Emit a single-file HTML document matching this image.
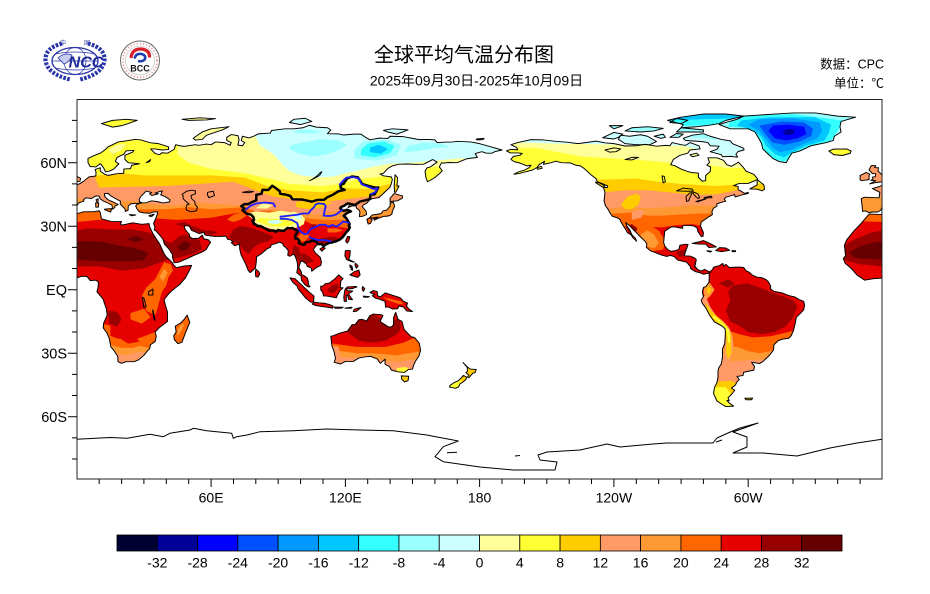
<!DOCTYPE html>
<html><head><meta charset="utf-8"><style>
html,body{margin:0;padding:0;background:#fff;}
svg{display:block;}
text{font-family:"Liberation Sans","Noto Sans CJK SC",sans-serif;}
</style></head><body>
<svg width="930" height="594" viewBox="0 0 930 594" xmlns="http://www.w3.org/2000/svg">
<defs>
<clipPath id="mc"><rect x="77" y="99.5" width="805" height="379.5"/></clipPath>
<polygon id="eur" points="-9,38.7 -9.5,43 -8,43.7 -1.5,43.4 -1.2,46 -4.5,47.8 -1.5,48.7 1.5,50.2 3,51.2 4.5,52.5 5.5,53.3 8.5,53.7 8.6,55.5 8.2,56.8 10.5,57.6 10.5,56 12.5,54.5 14,54 18,54.8 21,55 21,57 24,57.2 24.5,58.8 28,59.5 23,60 21.5,61.5 21.5,63.5 25,65 25.5,65.8 22,65.6 21,64 18,62.5 17.2,60.6 18.8,59.5 16.5,57 14.5,56 12.8,55.7 12,57.5 11,59 10.5,59.5 8.5,58 6,58.2 5,60 5,62 8,63.5 10.5,64.5 12.5,66 14,67.5 16,68.5 18.5,69.8 22,70.3 26,71 28.5,70.8 31,70 33,69.4 36.5,69 41,67.5 41,66.2 38,66 35,66.5 33,66.5 35,64.3 37,63.8 38,64.7 40.5,64.5 43.5,66.3 44.2,68.5 46,68 48,67.7 53,68.5 54.5,68.2 58,68.8 60,68.5 62,69.8 66,69.5 68.5,68.2 69,69.5 67,70.5 67,72 69,73.3 72,72.8 72.5,71 72,68.3 74,68 75,69.5 73.5,70.5 74,72.5 77,71.7 79,72.5 81,73.6 86.5,74 87,75.2 93,76 97,76 101,76.5 104,77.7 107,76.8 112,76.5 113.5,75.5 112,73.7 117,73.6 119,73.1 124,73.5 127,73.5 129,72 131,70.8 135,71.6 139,71.5 140,72.5 146,72.3 150,71.5 153,70.9 157,71 160,70.8 161,69.5 164,69.7 168,69.8 170,70.1 176,69.8 180,69 185,67.5 190,66 187,65.3 185.5,64.5 183,64.5 181,65.2 178,64.3 179,62.5 174,61.8 170,60 166,60.1 164,59.8 163,60 162,58 163.3,56.2 162,54.8 160,53 158.5,52 156.7,51 156,53 155.6,56 156.5,57.6 158,58 161,60.3 159,61.5 155,59.3 151,59.2 148,59.4 144,59.3 141,58.5 139,57.3 137,55 135.5,54.6 137,53.8 140.5,53.3 141,52 140.5,50 140,48.5 138,46.5 135,43.5 132,43 130.7,42.3 129.7,41 128,40 127.5,39.3 129.3,37 129.5,35.5 127.5,34.6 126.3,34.5 126.5,36.8 126,37.8 125,38.5 124.7,39.6 123,39.6 121.2,38.8 121.6,39.6 122.2,40.4 121,40.8 119.5,39.7 118,39 117.6,38.5 118.5,37.5 119,37.2 120.7,37.8 122.5,37 120.5,36.1 119.2,35 120.3,34.3 121,32.5 121.9,31.2 121.8,30 121.5,29.5 121.9,29 120.5,27.3 119.5,25.5 118,24.5 116.5,23 114,22.3 112,21.7 110.5,21.2 110.2,20.3 109.7,21.5 108,21.6 106.7,20.5 105.7,19 106.5,17.5 108.8,15.3 109.3,13 109,11.5 107,10.4 105,8.7 104.8,10.2 103,11 102.5,12.2 100.8,13.5 100,13.3 99.2,10.5 100.3,8.5 100.5,7 101.3,6.8 103,5.5 103.4,4 103.5,2.5 104.2,1.4 103.5,1.3 102,2.3 100.4,4.5 100.2,6.5 98.3,8 98.7,10.5 98.5,13 97.7,15.5 97,16.8 95.2,15.8 94.3,16.2 94.5,18.5 93.5,19.8 92.4,20.7 92,21.8 90.5,22.5 89,21.8 86.9,21.2 86.5,20 85,19.3 82.5,17 80.3,15.5 80.2,13.2 79.8,10.3 78,8.5 77.4,8.1 76.5,9.3 75.7,11.5 74.6,14 73.4,16.5 72.8,19.2 72.7,21.5 70.5,20.8 69,22.3 70,22.6 68.8,23.5 67.4,23.8 66.7,25.3 64.5,25.2 61.5,25.2 58.5,25.6 57.3,25.8 56.8,27.1 54.7,26.5 52.5,27.5 51.3,28 50.2,30 48.8,30.3 48,29.9 48.4,28.5 49.5,27 50.2,26.3 50.5,25 51.6,24.2 52.5,24.2 54.5,24.3 56,25.8 56.4,24.9 56.8,24 58.7,23.6 59.8,22.4 58.9,21 57.8,19 56.7,18.2 55.3,17.5 52.3,16.2 49,14.6 45.5,13 43.5,12.7 42.7,15.5 42.8,16.5 41.2,19.2 39.2,21.5 38.5,23.8 37.5,25.2 35.2,28 34.6,28.2 34.9,29.5 34.3,31.3 34.8,32.5 35.5,34.2 36,35.8 36.2,36.7 34.5,36.8 32.5,36.1 30,36.3 28,36.7 26.8,38.3 26.3,39.6 27,40.4 29,41 31,41.1 33.5,42 36,41.6 38.5,41 41.5,41.5 41.6,42.5 39.5,44 37.5,44.8 38.2,46.7 35,45.7 36.5,45.3 33.5,44.5 32.5,45.3 33.5,45.9 31,46.6 30,45.5 29.5,45 28.6,44 27.9,42.7 28,41.6 29,41.1 26.5,40.7 26.2,40.8 24.2,40.6 23.5,40 23,39.5 22.9,37.5 21.7,37 21.5,38.2 20.2,39.6 19.4,40.5 19.5,41.8 17,43.2 15,44.5 14,45.5 12.3,45.4 12.5,44 14,42.5 16,41.5 18.5,40.2 17,39.5 17,38.9 16,38 15.7,40 14,40.9 12,41.8 10.5,42.9 10,44.2 8.5,44.3 6.5,43.1 4,43.4 3,42.5 3.2,41.9 0.8,41 0,39.5 -0.3,38.8 -0.7,37.6 -2.1,36.7 -4.5,36.7 -6,36.4 -7.5,37.2 -8.9,37"/>
<polygon id="afr" points="-5.9,35.8 -9.8,31 -13,27.5 -16,23.5 -17,21 -16.5,16 -17.5,14.7 -16.7,12.5 -15,11 -13.5,9.5 -11.5,7 -8,4.5 -4,5.2 0,5.5 2,6.3 4.5,6.3 6,4.3 8.5,4.5 9.7,3.5 9.5,1 9,-1 11.8,-4.5 12.2,-6 13.2,-9 13.6,-12 12,-15.8 11.8,-18 13.5,-20.5 14.5,-23 15.2,-27 16.5,-28.6 18.3,-31.5 18.4,-34 20,-34.8 22,-34 25.6,-34 27.5,-33.2 30,-31 31.5,-29 32.5,-28 32.9,-26 35,-24.5 35.5,-22 35,-20 36.8,-18 40.5,-15 40.5,-10.5 39.5,-7 39,-4.7 41,-2 43,0 46,2.5 48.5,5.5 50.5,9.5 51.3,11.5 48,11.2 44.5,10.4 43.3,11.6 42.5,13 40,15.5 39,17 37.3,21 36.8,22 35.5,24 34,26.5 32.5,29.8 32.3,31.2 29,30.9 25,31.6 20,30.5 19.5,31 20,32.2 15.5,32.2 11,33.5 10.5,36.5 10,37.3 8,36.9 3,36.8 -1,35.5"/>
<polygon id="gb" points="-5.7,50 -3,50.6 1.4,51.2 1.7,52.6 0.3,53.4 -0.5,54.5 -1.5,55.6 -2,56 -1.8,57.6 -3.5,57.7 -3,58.6 -5,58.6 -5.6,57.5 -6,56.5 -5,55.5 -4.5,54.8 -3,54.8 -3.2,53.4 -4.5,53.2 -4.2,52.3 -5.2,51.7 -3,51.5"/>
<polygon id="ie" points="-6,52 -6,54 -5.6,54.6 -7.3,55.4 -8.3,54.8 -10,54 -10,52 -9.5,51.5"/>
<polygon id="sic" points="12.5,38.1 15.6,38.3 15.1,36.7 12.4,37.8"/>
<polygon id="sar" points="8.4,41 9.8,41 9.6,39 8.5,39"/>
<polygon id="cor" points="8.6,42.5 9.5,43 9.5,41.5 9,41.4"/>
<polygon id="cre" points="23.5,35.5 26.3,35.3 24.5,34.9"/>
<polygon id="cyp" points="32.3,35 34.6,35.7 33.5,34.6 32.4,34.7"/>
<polygon id="sval" points="11,78.5 16,80 22,80.5 27,80 23,78.5 20,77.5 16,76.8 14,77.5"/>
<polygon id="nzem" points="52,71.5 54,73 56,74.5 60,76 68,77 65,75.5 58,73 56,71 53,70.7"/>
<polygon id="fj" points="47,80.5 55,81.2 62,80.8 58,80.2 50,80"/>
<polygon id="sev" points="95,79 97,80.5 102,81 105,79.5 100,78"/>
<polygon id="nsi" points="137,75.3 141,76 148,75.5 143,73.5 139,74.5"/>
<polygon id="wra" points="178.5,71.2 182,71.5 181.5,70.9 178.8,70.8"/>
<polygon id="hon" points="130.9,34 132,35.3 134,35.6 136,36 136.8,37.2 138.5,37.6 140,39.5 140,40.9 141.4,41.4 142,39.5 141,37 140.8,35.7 139.8,35 138.5,34.7 137,34.6 135.5,34 133,33.7"/>
<polygon id="kyu" points="129.6,33.3 131,34 132,33 131.2,31.3 130.2,31"/>
<polygon id="shi" points="132.5,33.9 134.2,34.3 134.7,33.8 133,32.8"/>
<polygon id="hok" points="140,41.5 140,43.2 141.8,45.4 145.5,44.3 145.5,43.3 143.3,42 141,41.8"/>
<polygon id="sak" points="142,46 141.8,49 142.2,54.3 143.3,53 143.1,49 144,49 142.5,46"/>
<polygon id="tai" points="120.1,23 121,25.2 122,25 121.5,23 120.8,22"/>
<polygon id="hai" points="108.6,19.2 110,20.1 111,19.6 109.5,18.2"/>
<polygon id="sri" points="79.8,8 80,9.8 81.3,8.5 81.8,7.5 81,6 80,6.1"/>
<polygon id="luz" points="120,18.5 122.2,18.5 122,16 121.5,14.3 124,13 123,13.2 120.6,14.2 119.8,16"/>
<polygon id="mnd" points="122,7 124,8.5 126,9.3 126.6,7 125.5,5.8 124,6.3"/>
<polygon id="vs1" points="124.5,12.5 125.7,11.3 125,10.1 124.3,11.5"/>
<polygon id="vs2" points="122,11.7 123,11 122.2,10.4"/>
<polygon id="vs3" points="123,10.9 123.3,9.2 122.5,9.5"/>
<polygon id="bor" points="109,1.7 110,1.7 111,2.8 113,3.2 115.5,5.3 117,7 119,5.2 118,4.3 117.7,1 119,0.9 117.5,-0.5 116.5,-2.5 116,-3.8 114.5,-3.5 113,-3.2 111.7,-3 110.2,-2.9 110,-1.5 109,0"/>
<polygon id="sum" points="95.3,5.6 97.5,5.2 100.5,2.2 103.7,-1 106,-3 105.8,-5.8 104.5,-5.9 102.3,-4 100.8,-2 99,0.2 98.5,1.7 96.5,3.5"/>
<polygon id="jav" points="105.2,-6.8 106,-5.9 108.3,-6.2 110.5,-6.4 112.6,-6.9 114.5,-7.7 114.4,-8.7 112,-8.3 108.5,-7.8 106.5,-7.4"/>
<polygon id="sul" points="119.5,-5.5 120.5,-5.5 120.4,-2.9 121,-2.6 121.5,-4.6 123.2,-4.7 122,-3 121.4,-1.9 123,-0.9 123.3,-0.6 121,-0.5 120.1,0.5 120.9,1.3 124.8,1.5 125.2,1.3 123,0.5 120,0.4 119.7,-0.5 119.3,-3.5"/>
<polygon id="png" points="131,-1.3 132.5,-0.4 134.2,-0.9 134.4,-2.8 135.6,-3.4 137.8,-1.5 141,-2.6 144.5,-3.8 146,-5.5 147.8,-6.3 147.3,-7.8 148.5,-9.2 150,-10.3 147.5,-10.1 146,-8.2 144,-7.7 143.3,-9 141,-9.1 139,-8.1 138,-8.3 137.7,-5.5 135,-4.4 133.4,-4 132,-2.8 133.2,-2.2 131.3,-1.5"/>
<polygon id="tim" points="124,-9.2 127,-8.4 125,-10.2 123.5,-10.3"/>
<polygon id="flo" points="119.8,-8.7 123,-8.3 122.5,-8.8 120,-8.8"/>
<polygon id="bal" points="115,-8.2 119,-8.3 118,-8.8 115.5,-8.8"/>
<polygon id="hal" points="127.7,1.5 128.7,0.5 128,-0.8 127.5,0.5"/>
<polygon id="ser" points="128,-3 130.8,-3.3 130,-3.6 128.2,-3.5"/>
<polygon id="aus" points="113.5,-22 114,-26.5 115,-29.5 115.6,-32.5 115,-34.3 117.9,-35.1 120,-33.9 123.5,-33.9 126,-32.3 129,-31.7 131.3,-31.5 134.2,-32.7 135.6,-34.8 137.8,-32.8 137.7,-35.1 138.5,-35.7 139.6,-36.2 140.6,-38 143.5,-38.8 146.3,-39.1 148,-37.8 150,-37.5 150.5,-35.7 151.3,-33.8 152.9,-31.3 153.6,-28.5 153,-25.2 150.8,-22.5 149.5,-22.3 146.3,-18.9 145.3,-15 143.5,-14 142.5,-10.7 141.6,-13 141.5,-16.5 140.5,-17.7 139,-17.4 135.5,-15 136.8,-12.2 136,-11.8 132.6,-11.5 131,-12.2 129.5,-14.8 127.5,-14 126,-14.2 124.4,-16.4 123,-16.5 121,-19.5 117,-20.7 114.5,-21.8"/>
<polygon id="tas" points="145,-40.7 148.3,-40.9 148,-43 146.5,-43.6 145.2,-42.3"/>
<polygon id="nzn" points="172.6,-34.4 174.5,-36.5 175.9,-37.5 178.5,-37.7 177.9,-39.2 176.9,-39.5 175.2,-41.6 174.6,-41.3 175.2,-40.3 173.8,-39.2 174.6,-38.5 174.4,-36.6"/>
<polygon id="nzs" points="172.7,-40.5 174.3,-41.3 173.9,-42.3 172.7,-43.5 171.2,-44.5 170.6,-45.9 169.3,-46.6 166.5,-46 166.8,-45.2 168.4,-44 170.5,-43 172,-41.4"/>
<polygon id="mad" points="49.3,-12 50.5,-15.5 49.8,-17.2 48.5,-20.5 47,-24.8 45.2,-25.5 43.6,-23.6 43.3,-21.8 44.4,-20 44,-17.2 46.3,-15.8 48,-14"/>
<polygon id="na" points="192,65.6 194,66.3 197,66.1 196.5,67.2 194,68.5 197,69.5 203,70.9 208,70.8 214,70.1 219,69.7 224,69 228,69.6 232,70.2 236,69.4 240,69 245,67.9 250,68 254,68.7 259,67.8 263,68.2 265,68 266,69.5 270,68.5 272,68.2 274,69.5 278,68 278.5,66.5 274,66 273,64.5 269.5,63.5 266.5,61.5 265.4,59 267,58.7 270,57 272.5,56 275,55.3 277.7,55.1 277.8,53 279.5,51.3 281,51.5 281,54 283,55.8 283.2,58 281.5,58.8 282.7,60.2 282,62.3 286,62.3 289,61.1 290.5,59 292.5,58.3 295,59.8 295.6,60.3 298,57.5 299,56 302.5,54.5 304.3,52.2 303,51.5 300,50.2 296,50.2 293.5,49.2 295.5,48.8 295.5,47.3 298.5,45.5 300,46 300,45.5 296.5,44.6 294.2,43.8 293.9,45 293,44.6 290,43.7 289.3,42.8 290,41.8 288.5,41.4 286,40.6 286,39.5 284.5,38.5 283.8,37 284,35.5 282.5,34.5 281,33.4 279,32 278.7,30 280,27 279.8,25.2 279,25.2 277.5,27.5 277.3,29 276,30 274,30.4 271.5,30.4 270.5,30 270.8,29 269.5,29.2 267.5,29.6 266,29.7 265,29.3 262.7,27.6 262.5,25.3 262.2,22.3 262.8,20.5 264,19 265.5,18.1 267.5,18.5 269,19 269.5,21 272,21.5 273.1,21.3 272.5,19.5 271.8,17.5 271.5,16 274,15.9 276,15 276.8,14.3 276.5,12.5 276.2,11 277.5,9.5 279,8.8 280.5,9.6 282.5,8.6 283.2,8.2 282.6,7.9 280,7.3 278.5,8 276.5,8.5 274.3,9.9 274.1,11 272.5,13 270.5,13.5 268.5,14 267,15.6 265.3,16.2 263.5,15.7 261.5,16.3 259,17.3 256.5,18.3 254.5,20 254.7,21.7 254,22.8 251.5,25.3 250,27 249,28 247.5,29.7 245.3,31.7 245.8,30 247.2,28 248,26 249.7,24.2 250.1,22.9 248.5,24.5 247.7,25.9 246,27 245.5,28 244.5,29.7 243.2,31.9 242.7,33.2 241.5,34 239.4,34.6 238.1,36.5 237.5,37.8 236.2,39.7 235.6,42 236,46 235.3,48.4 237,48.2 237.2,49 235,50 232.5,51 232,52.5 229.5,54.5 228.5,55.5 227,57 225,58.5 223,58.8 220.5,59.9 216.5,60 214,60.7 212,60 208.5,59.2 209,60.7 206.5,59 205.7,57.8 203.5,56.5 200.5,55.7 198,55 195.3,54.5 197,55.5 200,56.5 202,57.6 203,58.8 201,58.5 198,59.8 195.5,60.5 194,61.5 195,63 198,63.5 199,64.4 197,64.6 193.7,64.6"/>
<polygon id="sa" points="283,8.5 284,9.5 284.5,10.5 285.5,11 287,11.3 288,12 288.7,12.4 289,11 290,12 291.5,10.5 294,10.6 296,10.7 298,10.5 299,9 300.5,8.2 302,6.8 304,5.9 306,5.7 308,4.8 309,3.8 310,1.8 310,0.3 311.5,-0.8 315,-1.5 318,-2.7 321,-3.5 323,-4.8 324.8,-5.5 325.2,-7.5 324.8,-9.5 323,-11.5 321.5,-13 321,-16 320.3,-19 319.2,-21.8 318,-23 315.5,-23.3 313.5,-24 311.5,-26 311.3,-28.5 309.5,-31 308,-32.5 306.5,-34 305,-34.9 303,-34.5 301.5,-34.3 302.8,-36.2 302.5,-38 298,-39 297.7,-40.5 295,-41 296,-42.5 295,-43.5 294.3,-45 292.5,-46.5 294,-47.5 292.5,-49.5 291,-51 291.5,-52.5 290.5,-52.3 291.5,-53.5 293.5,-55 290,-55.2 288,-54 286,-52.5 284.5,-49 285,-46 286,-44 286.5,-41.5 286.5,-38.5 286.8,-37 288,-35 288.5,-32 288.5,-28 289.5,-25.5 289.8,-21 289.7,-18.5 288.5,-17.3 285,-15.3 283.7,-13.5 282.5,-11.5 281,-8.5 279.5,-6.5 279,-5 280,-3.3 279.5,-1 280,1 281.1,1.5 282.5,3.5 282.6,6.5 282.5,7.5"/>
<polygon id="grl" points="287,78 292,76 300,76 303,74.5 305,71 306,69 306.5,66.5 309,64 311,62 314,60.5 317,60 318,62 319.5,64.5 323,65.5 328,68 335,69.5 338,70.5 338.5,72.5 341.5,74.5 341,77 341.5,79.5 348,81.5 340,82 330,83.5 320,83.5 305,82.5 298,82 295,80.5 290,79"/>
<polygon id="baf" points="280,73.7 283,72.5 288,71 292,70.3 293,69 298,66.8 298.1,66 295.5,65.3 294.5,64 295.3,62.6 292,63 288.5,62.8 288,63.8 283,65.2 286,66.3 287,67.8 283,68 282,69.5 279,70 272,70.5 271,71.5 275,73"/>
<polygon id="vic" points="242,71 243,73 247,72.5 252,73.2 255,72.5 259,70 256,68.5 250,68.5 245,69"/>
<polygon id="ban" points="235,71.8 240,74.3 244,73.5 242,72 240,71.2"/>
<polygon id="ell" points="270,76.5 277,77 282,77.6 287,78.5 290,80 298,82 290,83 280,83 270,81.5 264,80 271,78"/>
<polygon id="dev" points="268,74.5 280,74.5 280,75.5 270,76.5"/>
<polygon id="mel" points="245,75 252,74.5 258,75 262,76.2 255,77 248,76.5"/>
<polygon id="ppi" points="240,76 244,77.5 238,77.5"/>
<polygon id="som" points="265,72 268,73.8 271,73.5 269,72"/>
<polygon id="pow" points="258,72.5 262,73.5 263,72 261,71.5"/>
<polygon id="sth" points="274,63.8 277,64.5 278,63.5 275,62.8"/>
<polygon id="axh" points="265,79 268,81 273,80 270,78.5"/>
<polygon id="nfl" points="300.7,47.6 304,49.5 304,51.5 304.5,51.6 307,49.5 307.3,47.5 306.2,46.7 304,47.5"/>
<polygon id="cub" points="275,21.9 278,22.6 280,23.2 283,21.8 285.8,20.2 282.5,19.9 281,21.5 277.5,21.6"/>
<polygon id="his" points="285.5,18.5 287.2,19.9 290,19.7 291.7,18.6 289.5,18.2 288,18"/>
<polygon id="jam" points="281.6,18.4 283.6,18.2 283.2,17.8 281.7,18.2"/>
<polygon id="pri" points="292.8,18.5 294.4,18.4 294.3,18 292.9,18"/>
<polygon id="van" points="235,48.4 232,50.5 231.7,50.8 233.5,50.5 236,49"/>
<polygon id="ice" points="338,64 336,65.5 338,66.4 344,66.5 346,65.5 345.5,64.4 342,63.4 338,63.8"/>
<polygon id="fal" points="298.5,-51.3 302,-51.2 301.5,-52 299,-52"/>
<polygon id="kod" points="205.5,57.5 207.5,58.3 208,57.4 206,56.9"/>

<clipPath id="cEA">
<use href="#eur"/><use href="#afr"/><use href="#gb"/><use href="#ie"/><use href="#sic"/><use href="#sar"/><use href="#cor"/><use href="#cre"/><use href="#cyp"/><use href="#sval"/><use href="#nzem"/><use href="#fj"/><use href="#sev"/><use href="#nsi"/><use href="#wra"/><use href="#hon"/><use href="#kyu"/><use href="#shi"/><use href="#hok"/><use href="#sak"/><use href="#tai"/><use href="#hai"/><use href="#sri"/><use href="#luz"/><use href="#mnd"/><use href="#vs1"/><use href="#vs2"/><use href="#vs3"/><use href="#bor"/><use href="#sum"/><use href="#jav"/><use href="#sul"/><use href="#png"/><use href="#tim"/><use href="#flo"/><use href="#bal"/><use href="#hal"/><use href="#ser"/><use href="#aus"/><use href="#tas"/><use href="#nzn"/><use href="#nzs"/><use href="#mad"/>
</clipPath>
<clipPath id="cAM">
<use href="#na"/><use href="#sa"/><use href="#grl"/><use href="#baf"/><use href="#vic"/><use href="#ban"/><use href="#ell"/><use href="#dev"/><use href="#mel"/><use href="#ppi"/><use href="#som"/><use href="#pow"/><use href="#sth"/><use href="#axh"/><use href="#nfl"/><use href="#cub"/><use href="#his"/><use href="#jam"/><use href="#pri"/><use href="#van"/><use href="#ice"/><use href="#fal"/><use href="#kod"/>
</clipPath>

<g id="zEA" clip-path="url(#cEA)">
<rect x="-30" y="-60" width="230" height="150" fill="#e60000"/>
<polygon fill="#ff6600" points="-30,33 0,32 10,33 30,34 45,33 60,34 70,36 80,37 95,36 105,31 115,30 122,29 135,30 145,32 200,32 200,90 -30,90"/>
<polygon fill="#ff9933" points="-30,38 0,38 20,38 40,38 50,39 60,38 75,39 90,37 100,34 110,33 120,33 130,34 145,36 200,36 200,90 -30,90"/>
<polygon fill="#ff9966" points="-30,40 10,41 25,42 35,40 45,40 55,41 70,40 75,40 90,38 100,36 108,35.5 115,37 125,38 130,40 145,41 200,41 200,90 -30,90"/>
<polygon fill="#ffcc00" points="-30,48 0,48 20,48.5 40,49 55,50 70,51 80,47 88,44 95,43 105,42 115,42 122,43 130,44 140,45 200,45 200,90 -30,90"/>
<polygon fill="#ffff33" points="-30,53 10,54 20,55 30,54 45,54 60,54 75,53 85,49 95,47 110,46 120,48 130,47.5 140,50 200,50 200,90 -30,90"/>
<polygon fill="#ffff99" points="45,90 45,64 50,60 60,57 75,55 88,52 95,50 110,49 118,50 125,52 140,54 150,56 160,58 170,58 200,58 200,90"/>
<polygon fill="#ffff99" points="14,66 18,68.5 22,69 20,66 16,64"/>
<polygon fill="#ccffff" points="75,90 75,76 80,72 82,68 88,64 92,59 95,56 100,54 108,53 115,53.5 120,55 125,56 132,58 140,59.5 150,60 160,61 170,62 200,62 200,90"/>
<polygon fill="#99ffff" points="95,66.5 100,64 106,63 112,64 117,66 121,68.5 117,70.5 109,71 101,69.5 96,68.5"/>
<polygon fill="#99ffff" points="146,65 153,65.5 160,67 167,67.3 163,69 155,69.5 148,68"/>
<polygon fill="#99ffff" points="97,74 105,73.8 110,74.6 104,75.6 98,75.3"/>
<polygon fill="#99ffff" points="124,62 134,61 143,63.5 145,68.5 138,71 128,70 124,66"/>
<polygon fill="#33ffff" points="127,63.5 133,62.5 140,64.5 142,68 137,70 130,69 127,66"/>
<polygon fill="#00c8ff" points="131,65 136,64.2 139,66.5 135,68.5 131,67.2"/>
<polygon fill="#ff9966" points="-12,36 -12,59 -3,59 3,54 8,53.5 10,48 8,44 3,43 0,42 -5,40"/>
<polygon fill="#ff9933" points="-10,36 -10,43.5 -2,43.8 3,42.5 1,39 -2,36.5 -6,35.8"/>
<polygon fill="#ff9966" points="76,38.5 80,37 86,37.5 90,38.5 91,40 88,41.8 82,41.8 78,40.5"/>
<polygon fill="#ffff99" points="80,38.5 85,38.3 87.5,40 83,40.8"/>
<polygon fill="#ffff99" points="75,36 78,34 80,31 84,29.5 88,28.3 92,28.3 96,28.8 99,29.5 101.5,31 102,33.5 100,35.5 97,37 92,37.5 86,36.5 80,37"/>
<polygon fill="#ffff33" points="80,32.5 85,30.5 90,29.8 95,30.2 98,31.5 97,33 92,33.3 86,33.5 82,34"/>
<polygon fill="#ccffff" points="85,31.5 89,31 92,31.8 90,33 86,32.8"/>
<polygon fill="#ccffff" points="97,34 100,33 100.5,35 98,35.5"/>
<polygon fill="#ff9966" points="90,37.5 96,36.5 99,37.5 95,39 91,39"/>
<polygon fill="#ffcc00" points="98,39 104,38 110,39 114,41 110,42.5 104,42 98,41.5"/>
<polygon fill="#ff6600" points="112,27 116,27 119,28 116,29 112,29"/>
<polygon fill="#ff6600" points="98,24 100,26.5 103,27 104,25 102,23 99,22.5"/>
<polygon fill="#990000" points="107,23.5 110,24.5 114,25 117,24.5 115,22.8 111,22 108,22.3"/>
<polygon fill="#990000" points="105,29 107,30.5 106,31 104,30"/>
<polygon fill="#990000" points="68,25 70,28.5 73,30 77,29.5 81,28 85,26.5 88,25 86,23 82,22 79,20 77,17 75,18 73,21 70,23"/>
<polygon fill="#ff6600" points="67,33 70,35.5 74,36.5 76,35 73,33 70,32"/>
<polygon fill="#990000" points="96,17 97,21 99,20 100,17 102,17 104,15.5 106,13.5 103,12.5 100,13 98,15"/>
<polygon fill="#990000" points="-17,21 -12,24 -5,27 5,29 15,28.5 25,28.5 32,27 38,24 42,22 46,25.5 50,26 55,23 56,19 52,17 45,15 40,14 35,12 30,10 20,9 10,11 0,11 -10,12 -17,14"/>
<polygon fill="#990000" points="44,31 48,32 52,30 57,28 60,28 63,27 60,26 55,27 50,28.5 47,30"/>
<polygon fill="#660000" points="-15,17.5 -10,20.5 -3,22.5 5,23 12,22.5 18,21 24,20 28,19 32,17 30,14 25,13.5 18,13.5 10,13.5 2,14 -5,14.5 -12,15"/>
<polygon fill="#660000" points="22,24 27,25.5 30,23.5 26,22.5"/>
<polygon fill="#660000" points="45,20.5 48,23 51,21.5 49,18.5 46,18.5"/>
<polygon fill="#ff6600" points="29,-3 31,1 33,3 35,5 37,9 39,13 42,12 43,9 41,6 40,2 38,-1 37,-5 36,-9 35,-12 31,-10 30,-6"/>
<polygon fill="#ff9933" points="37,6 39,10 40.5,8 38.5,4"/>
<polygon fill="#ff6600" points="24,-11 30,-9 33,-13 29,-16 24,-14"/>
<polygon fill="#990000" points="14,-10 18,-10.5 20,-14 18,-17.5 14.5,-16"/>
<polygon fill="#ff6600" points="8,-19 13,-21 18,-23 25,-24 30,-22 35,-20 45,-20 45,-40 8,-40"/>
<polygon fill="#ff6600" points="11,-16 15,-17 15,-24 11,-24"/>
<polygon fill="#e60000" points="20,-21 25,-21 28,-24.5 23,-25.5 20,-23.5"/>
<polygon fill="#ff9933" points="8,-26 15,-26 20,-27.5 25,-27.5 28,-26.5 32,-27.5 45,-27.5 45,-40 8,-40"/>
<polygon fill="#ff9966" points="8,-30 18,-30 22,-31 27,-29.5 30,-29.5 33,-30 45,-30 45,-40 8,-40"/>
<polygon fill="#ff6600" points="42,-27 52,-27 52,-11 42,-11"/>
<polygon fill="#ff9933" points="45,-22 47,-19 48,-16 46.5,-16.5 45,-19"/>
<polygon fill="#990000" points="112,0 114,2 116.5,3 117,1 115,-1.5 113,-1.5"/>
<polygon fill="#ff6600" points="137,-3.5 141,-4.5 145,-5.5 146,-7 143,-6.5 139,-5"/>
<polygon fill="#990000" points="122,-14 128,-13 133,-12 137,-14 140,-17 142,-14 144,-14 145,-18 143,-21 138,-24 132,-25 126,-24 122,-21 119,-19"/>
<polygon fill="#ff6600" points="112,-25 118,-26 125,-27 132,-27 138,-27 142,-26 146,-25 150,-23 155,-22 155,-45 112,-45"/>
<polygon fill="#ff9933" points="112,-28 118,-29 125,-30 132,-30 138,-30.5 143,-31 148,-30 155,-29 155,-45 112,-45"/>
<polygon fill="#ff9966" points="112,-31 118,-32 124,-32 130,-31.5 135,-33 140,-34 145,-34 150,-33 155,-33 155,-45 112,-45"/>
<polygon fill="#ff9966" points="112,-26 117,-27 118,-33 112,-33"/>
<polygon fill="#ffff33" points="143,-37 147,-36.5 149,-38 146,-39.5 143,-39"/>
<polygon fill="#ffcc00" points="144,-40 149,-40 149,-44 144,-44"/>
<polygon fill="#ffcc00" points="165,-48 181,-48 181,-34 165,-34"/>
<polygon fill="#ffff33" points="166,-47 171,-47 172,-43 170,-42 167,-44"/>
</g>
</defs>

<g clip-path="url(#mc)">
<g transform="matrix(2.238 0 0 -2.1167 76.8 289.7)">
<use href="#zEA"/>
<use href="#zEA" transform="translate(360 0)"/>
<g clip-path="url(#cAM)">
<rect x="180" y="-60" width="185" height="150" fill="#e60000"/>
<polygon fill="#ff6600" points="180,27 240,27 250,28 255,29.5 262,29.5 268,30.5 275,31 280,30 290,30 365,30 365,90 180,90"/>
<polygon fill="#ff6600" points="250,20 256,18 262,19 263,23 260,28 255,31 250,31 248,27"/>
<polygon fill="#ff9933" points="253,21 258,19.5 260,22 258,26 255,28 252,26"/>
<polygon fill="#990000" points="245,30 248,31 250.5,29 249.5,26 247,26.5"/>
<polygon fill="#990000" points="268,18 272,19 272,16 269,15.5"/>
<polygon fill="#990000" points="276,13 279,11 277.5,9.5 275.5,10.5"/>
<polygon fill="#ff9933" points="180,34 235,34 240,36 248,36.5 255,35 262,35 270,35.5 278,36 285,36 365,36 365,90 180,90"/>
<polygon fill="#ff9966" points="180,39 235,38 245,39 255,38.5 265,39 275,40 285,39.5 290,40 365,40 365,90 180,90"/>
<polygon fill="#ff9966" points="248,33 252,34 254,37 251,38 248,36.5"/>
<polygon fill="#ffcc00" points="243,40 246,44 250,45.5 252,44 251,40 248,38 245,38"/>
<polygon fill="#ffcc00" points="180,46 235,46 245,47 255,47 265,46 275,45 285,45 295,47 365,47 365,90 180,90"/>
<polygon fill="#ffff33" points="180,50 235,52 250,52.5 260,51 270,50 285,49 300,50 365,50 365,90 180,90"/>
<polygon fill="#ffff99" points="180,67 205,67 215,65 225,63 240,62 255,61 265,60 275,61 282,59 290,57.5 300,57.5 365,57.5 365,90 180,90"/>
<polygon fill="#ccffff" points="180,69.5 200,69.5 215,69 230,68.8 245,68.5 260,68.3 270,68 280,66 290,63 300,62 365,62 365,90 180,90"/>
<polygon fill="#99ffff" points="180,78 235,74 255,73 265,72.5 275,72 285,71 295,72 365,72 365,90 180,90"/>
<polygon fill="#33ffff" points="230,78 260,77 275,77.5 290,78 365,78 365,90 230,90"/>
<polygon fill="#00c8ff" points="262,80 280,80.5 295,81 300,82 300,90 262,90"/>
<use href="#grl" fill="#99ffff"/>
<polygon fill="#33ffff" points="291,77 300,76.5 303,74 306,70 307,66 311,62 316,60.5 318,62 322,65.5 330,68 337,70.5 339,73.5 341,77 342,80 320,83 300,82 292,80"/>
<polygon fill="#00c8ff" points="295,77.5 302,75.5 306,72 308,68 312,64 316,62.5 320,65 326,68 334,70.5 336,74 337,78 330,81.5 310,81.5 297,80"/>
<polygon fill="#0099ff" points="300,78 305,75 308,71 311,67 314,65 319,66 325,69 331,71.5 333,75 332,79 320,81 305,80.5"/>
<polygon fill="#0050ff" points="305,77.5 308,73 311,69.5 316,68.5 323,70 328,72.5 329,76 325,79 315,79.5"/>
<polygon fill="#0000ff" points="309,75 312,71.5 317,70.5 322,71.5 326,73.5 325,77 318,78 311,77.5"/>
<polygon fill="#000099" points="315,74.5 317,73 320,73.5 321,75.5 318,76"/>
<polygon fill="#ffff33" points="335,63 348,63 348,67 335,67"/>
<polygon fill="#990000" points="293,2 300,3 305,1 310,-1 315,-3 320,-5 322,-8 320,-13 317,-17 312,-20 306,-21 300,-20 296,-17 292,-15 290,-10 292,-5 291,-1"/>
<polygon fill="#990000" points="287,3 291,5 294,3 291,1"/>
<polygon fill="#ff6600" points="280,-18 290,-19 296,-21 302,-22.5 310,-22 318,-20 326,-18 326,-60 280,-60"/>
<polygon fill="#ff9933" points="280,-27 295,-27 300,-29 305,-30 310,-29 326,-29 326,-60 280,-60"/>
<polygon fill="#ff9966" points="280,-34 292,-34 297,-33.5 305,-33 326,-33 326,-60 280,-60"/>
<polygon fill="#ffcc00" points="280,-44 292,-43 297,-45 310,-45 326,-45 326,-60 280,-60"/>
<polygon fill="#ffff33" points="284,-46 290,-46 292,-49 293,-52 296,-56 284,-57"/>
<polygon fill="#ff9933" points="281,5 283,3 285,0 283,-3 281,-5 280,-1"/>
<polygon fill="#ffcc00" points="282,2 283.5,0 282.5,-2 281.5,-1"/>
<polygon fill="#ff9966" points="279,-3 281,-3 283,-8 285.5,-12 289,-15 291.5,-18 293,-22 293.5,-27 292,-33 290,-38 288,-38 288.5,-33 289.5,-28 290,-22 288,-18.5 284.5,-15.5 281,-11 279.3,-6"/>
<polygon fill="#ffcc00" points="281,-6 283.5,-10 287,-13.5 290.5,-17 292.5,-22 292.5,-30 291,-33 290,-30 290.3,-23 289,-19 285,-15 281.5,-10"/>
<polygon fill="#ffff33" points="284.5,-12 288.5,-15.5 291.5,-19 292,-25 291,-25 290.5,-20 288,-16.5 284,-12.8"/>
</g>
<g fill="none" stroke="#000" stroke-width="0.45" stroke-linejoin="round">
<g id="olEA">
<use href="#eur"/><use href="#afr"/><use href="#gb"/><use href="#ie"/><use href="#sic"/><use href="#sar"/><use href="#cor"/><use href="#cre"/><use href="#cyp"/><use href="#sval"/><use href="#nzem"/><use href="#fj"/><use href="#sev"/><use href="#nsi"/><use href="#wra"/><use href="#hon"/><use href="#kyu"/><use href="#shi"/><use href="#hok"/><use href="#sak"/><use href="#tai"/><use href="#hai"/><use href="#sri"/><use href="#luz"/><use href="#mnd"/><use href="#vs1"/><use href="#vs2"/><use href="#vs3"/><use href="#bor"/><use href="#sum"/><use href="#jav"/><use href="#sul"/><use href="#png"/><use href="#tim"/><use href="#flo"/><use href="#bal"/><use href="#hal"/><use href="#ser"/><use href="#aus"/><use href="#tas"/><use href="#nzn"/><use href="#nzs"/><use href="#mad"/>
<polygon points="47,45 49,46.5 51.5,47 53,46.7 53,45.3 51,44.5 51.3,43 52.7,41.7 52.9,40.2 53.9,39 53.5,37.3 51,36.8 49,37.6 48.8,38.6 49.3,40.3 50.3,40.4 49,41.5 47.5,43 47.5,44.5"/>
<polygon points="58.5,46 61,46.5 61.5,44.5 59,43.5 58.3,45"/>
<polygon points="104,51.5 106,52.5 108.5,54 109.5,55.7 109,55.5 107,53.5 105,52"/>
<polygon points="74,46 77,46.6 79,46.3 76.5,45.8"/>
<polygon points="31,60 33,61.5 32.5,60.5"/>
<polygon points="32,-1 34,0.3 34,-2.5 32,-2.5"/>
<polygon points="29.3,-3.5 30,-8.5 31,-8 30,-4"/>
<polygon points="34,-9.5 35,-14.5 34.5,-14 33.9,-10"/>
</g>
<use href="#olEA" transform="translate(360 0)"/>
<use href="#na"/><use href="#sa"/><use href="#grl"/><use href="#baf"/><use href="#vic"/><use href="#ban"/><use href="#ell"/><use href="#dev"/><use href="#mel"/><use href="#ppi"/><use href="#som"/><use href="#pow"/><use href="#sth"/><use href="#axh"/><use href="#nfl"/><use href="#cub"/><use href="#his"/><use href="#jam"/><use href="#pri"/><use href="#van"/><use href="#ice"/><use href="#fal"/><use href="#kod"/>
<polygon points="268,46.7 271,48 275,47.5 275.5,46.5 273,46.5 270,46.6"/>
<polygon points="272.5,41.7 272.2,44 274,45.8 275,45.8 273.7,43 273.5,42"/>
<polygon points="276,46 277.5,45.3 278.3,43.5 277.7,43 276.5,44 275.3,45.7"/>
<polygon points="276.6,41.7 281.1,42.9 280,42.5 277.5,41.5"/>
<polygon points="280.2,43.3 283.8,43.5 283.5,44.2 280.5,43.6"/>
<polygon points="236,66 240,67 243,66.5 241,65.2 238,65"/>
<polygon points="245,61.5 248,62.5 251,62.5 248,61.3"/>
<polygon points="262,50.5 261.5,53.8 262.5,53.5 263,51"/>
</g>
<polygon fill="none" stroke="#000" stroke-width="1.15" stroke-linejoin="round" points="73.5,39.5 75,40.5 76.5,40.4 78.5,41.5 80.2,42.2 80.2,44.8 82.5,45.3 83,47.2 85.5,47.1 87.3,49.1 88.8,48.1 90.7,46.5 90.9,45.3 93.5,44.9 95.4,44.3 96.4,42.7 100.8,42.6 105,41.6 107.5,42.4 110.5,42.5 112,43.7 114.5,44.9 116.7,46.4 119.7,47.2 118,48 117.8,49.5 119.2,50 120.7,52.5 123,53.5 125.6,53.1 127.5,50 130.7,48.9 133.5,48.2 134.7,48.3 133.1,45.1 131.2,44.9 131,42.9 129.7,42.4 128,42 126.6,41.7 124.3,40 122.3,40.5 121,40.8 119.5,39.7 118,39 117.7,38.4 118.9,37.4 119.2,37.2 120.8,37.8 122.5,37 120.8,36.3 119.3,34.9 120.5,33.7 121.3,32.2 121.9,31 121.5,30.3 122,29.5 121.5,28.4 120.5,27.2 119.6,26 118.8,24.8 117.5,23.7 116,22.9 114,22.3 113,22.2 111.3,21.4 110.2,20.6 109.6,21.6 108,21.5 106.7,22.8 105.3,23.3 103.9,22.6 102.3,22.4 101.7,21.2 100.2,21.5 99.2,22.1 99.5,23 98.7,24.1 97.7,24.1 97.6,25.5 98.7,27.5 97.6,28.4 96.3,29.2 95.3,29 94.2,29.2 92.5,27.8 91.2,27.9 90,28.2 88.8,27.3 88,28 86,27.9 84.8,28.6 82,30.1 81.2,30 79,31.3 78.8,32.5 78.4,32.6 79.2,33 78.9,34.3 77.8,35.5 76,35.8 75,36.8 74,37.5 74.8,38.5"/>
<g fill="none" stroke="#1f1fff" stroke-width="0.85" stroke-linejoin="round" stroke-linecap="round">
<polyline points="75.5,37.8 77.5,39.6 80.4,40.8 84,41.2 87.8,40.8 88.6,39.3"/>
<polyline points="91,34.5 95,35 99,35.5 101,36 103.5,36 104.5,37.5 106,39 106.7,40.2 108,40.8 110.5,40.5 111.2,39.5 110.7,37 110.3,35 112,34.8 114,34.9 116,35.6 118.5,37.6"/>
<polyline points="91,33.5 93,33.5 96,33 98.5,31.5 99.2,28.5 100.5,27 101.8,26.2 103,26.5 104.5,28.7 106.5,29.5 108.5,30.7 111,30.7 112.5,29.8 114.3,30.6 116,29.8 117.5,30.8 119,32.2 121.5,31.6"/>
<polyline points="104,24.8 106,24 108,23.4 110,23.5 112,23.2 113.5,22.8"/>
<polyline points="117.5,49.7 119,51.5 120.5,53 123.5,53.2 126,52.6 127.3,49.8 130.5,48.5 132.5,47.6 134.4,48 133.3,46 131.5,45.2"/>
</g>
</g>
<path fill="none" stroke="#000" stroke-width="1" stroke-linejoin="round" d="M77,439.3 L110,437.5 L127,438.3 L150,434.3 L163.3,436.7 L170,433.3 L190,430 L193.3,428.3 L206.7,430.7 L231.7,433.3 L233.3,438.3 L236.7,436.7 L247,435 L260,431.7 L293.3,430.7 L326.7,429 L360,430 L393.3,430.7 L426.7,435 L458.3,441 L443.3,446.7 L435,456.7 L443.3,461.7 L480,467 L513,470 L555,470 L557,462 L540,460 L538,455 L547,452 L580,450 L607,444 L620,447 L653,444 L667,443 L713,443 L717,438 L728,433 L740,428 L758,423 L733,432 L747,437 L747,447 L733,453 L763,453 L797,456 L830,448 L857,443 L882,439.3 M447,452.7 L457,452.3 M515,456 L520,455.5 M716,442 L722,440"/>
</g>

<rect x="77" y="99.5" width="805" height="379.5" fill="none" stroke="#222" stroke-width="1"/>
<path stroke="#000" stroke-width="1" fill="none" d="M99.2 479v5M121.6 479v5M143.9 479v5M166.3 479v5M188.7 479v5M211.1 479v8M233.5 479v5M255.8 479v5M278.2 479v5M300.6 479v5M323 479v5M345.4 479v8M367.7 479v5M390.1 479v5M412.5 479v5M434.9 479v5M457.3 479v5M479.6 479v8M502 479v5M524.4 479v5M546.8 479v5M569.2 479v5M591.5 479v5M613.9 479v8M636.3 479v5M658.7 479v5M681.1 479v5M703.4 479v5M725.8 479v5M748.2 479v8M770.6 479v5M793 479v5M815.3 479v5M837.7 479v5M860.1 479v5
M77 120.4h-5M77 141.5h-5M77 162.7h-9M77 183.9h-5M77 205h-5M77 226.2h-9M77 247.4h-5M77 268.5h-5M77 289.7h-9M77 310.9h-5M77 332h-5M77 353.2h-9M77 374.4h-5M77 395.5h-5M77 416.7h-9M77 437.9h-5M77 459h-5"/>
<g font-size="14.5" fill="#000" text-anchor="end">
<text x="67" y="167.8">60N</text>
<text x="67" y="231.3">30N</text>
<text x="67" y="294.8">EQ</text>
<text x="67" y="358.3">30S</text>
<text x="67" y="421.8">60S</text>
</g>
<g font-size="14" fill="#000" text-anchor="middle">
<text x="211.1" y="502.5">60E</text>
<text x="345.4" y="502.5">120E</text>
<text x="479.6" y="502.5">180</text>
<text x="613.9" y="502.5">120W</text>
<text x="748.2" y="502.5">60W</text>
</g>

<g stroke="#000" stroke-width="0.8">
<rect x="117" y="535" width="40.28" height="16" fill="#000033"/>
<rect x="157.28" y="535" width="40.28" height="16" fill="#000099"/>
<rect x="197.56" y="535" width="40.28" height="16" fill="#0000ff"/>
<rect x="237.84" y="535" width="40.28" height="16" fill="#0050ff"/>
<rect x="278.12" y="535" width="40.28" height="16" fill="#0099ff"/>
<rect x="318.4" y="535" width="40.28" height="16" fill="#00c8ff"/>
<rect x="358.68" y="535" width="40.28" height="16" fill="#33ffff"/>
<rect x="398.96" y="535" width="40.28" height="16" fill="#99ffff"/>
<rect x="439.24" y="535" width="40.28" height="16" fill="#ccffff"/>
<rect x="479.52" y="535" width="40.28" height="16" fill="#ffff99"/>
<rect x="519.8" y="535" width="40.28" height="16" fill="#ffff33"/>
<rect x="560.08" y="535" width="40.28" height="16" fill="#ffcc00"/>
<rect x="600.36" y="535" width="40.28" height="16" fill="#ff9966"/>
<rect x="640.64" y="535" width="40.28" height="16" fill="#ff9933"/>
<rect x="680.92" y="535" width="40.28" height="16" fill="#ff6600"/>
<rect x="721.2" y="535" width="40.28" height="16" fill="#e60000"/>
<rect x="761.48" y="535" width="40.28" height="16" fill="#990000"/>
<rect x="801.76" y="535" width="40.28" height="16" fill="#660000"/>
</g>
<g font-size="14" fill="#000" text-anchor="middle">
<text x="157.3" y="567.5">-32</text>
<text x="197.6" y="567.5">-28</text>
<text x="237.8" y="567.5">-24</text>
<text x="278.1" y="567.5">-20</text>
<text x="318.4" y="567.5">-16</text>
<text x="358.7" y="567.5">-12</text>
<text x="399" y="567.5">-8</text>
<text x="439.2" y="567.5">-4</text>
<text x="479.5" y="567.5">0</text>
<text x="519.8" y="567.5">4</text>
<text x="560.1" y="567.5">8</text>
<text x="600.4" y="567.5">12</text>
<text x="640.6" y="567.5">16</text>
<text x="680.9" y="567.5">20</text>
<text x="721.2" y="567.5">24</text>
<text x="761.5" y="567.5">28</text>
<text x="801.8" y="567.5">32</text>
</g>

<text x="464" y="61.5" font-size="20" text-anchor="middle" fill="#000">全球平均气温分布图</text>
<text x="476.5" y="85.3" font-size="14" text-anchor="middle" fill="#000">2025年09月30日-2025年10月09日</text>
<text x="884" y="68.5" font-size="12.5" text-anchor="end" fill="#000">数据：CPC</text>
<text x="884" y="87.5" font-size="12.5" text-anchor="end" fill="#000">单位：℃</text>

<g fill="none" stroke="#2a36a8">
<path d="M62 43.5 Q45 48 45.5 60 Q47 74 70 79.5" stroke-width="4.2" stroke-dasharray="2.6 1.4"/>
<path d="M88 43.5 Q105 48 104.5 60 Q103 74 80 79.5" stroke-width="4.2" stroke-dasharray="2.6 1.4"/>
<ellipse cx="75" cy="61" rx="23" ry="13.5" stroke-width="1.3"/>
<ellipse cx="75" cy="61" rx="11" ry="13.5" stroke-width="0.7"/>
<line x1="52" y1="61" x2="98" y2="61" stroke-width="0.7"/>
<path d="M55 54 Q75 50 95 54 M55 68 Q75 72 95 68" stroke-width="0.7"/>
<path d="M58 58 Q64 52 72 55 Q70 62 64 64 Z" stroke-width="0.8" fill="#c8ccee"/>
</g>
<text x="75" y="45" font-size="6" fill="#2a36a8" text-anchor="middle">中　　　国</text>
<text x="86" y="67.5" font-size="16" font-weight="bold" font-style="italic" fill="#1e2a9a" text-anchor="middle">NCC</text>

<circle cx="140" cy="60.5" r="19.5" fill="#fff" stroke="#666" stroke-width="1"/>
<circle cx="140" cy="60.5" r="14.5" fill="none" stroke="#bbb" stroke-width="0.6"/>
<circle cx="140" cy="60.5" r="17" fill="none" stroke="#c33" stroke-width="1.6" stroke-dasharray="1 2.2" opacity="0.6"/>
<path d="M131 58 Q132 48.5 141.5 49 Q150 50 149.5 57.5" fill="none" stroke="#d8202a" stroke-width="3.2"/>
<path d="M134.5 58.5 Q136 53 141.5 54 Q146 55 145 59 Q143 62 138 61" fill="none" stroke="#2040b0" stroke-width="2.6"/>
<text x="140" y="71.5" font-size="9" font-weight="bold" font-family="Liberation Serif, serif" fill="#111" text-anchor="middle">BCC</text>
</svg>
</body></html>
